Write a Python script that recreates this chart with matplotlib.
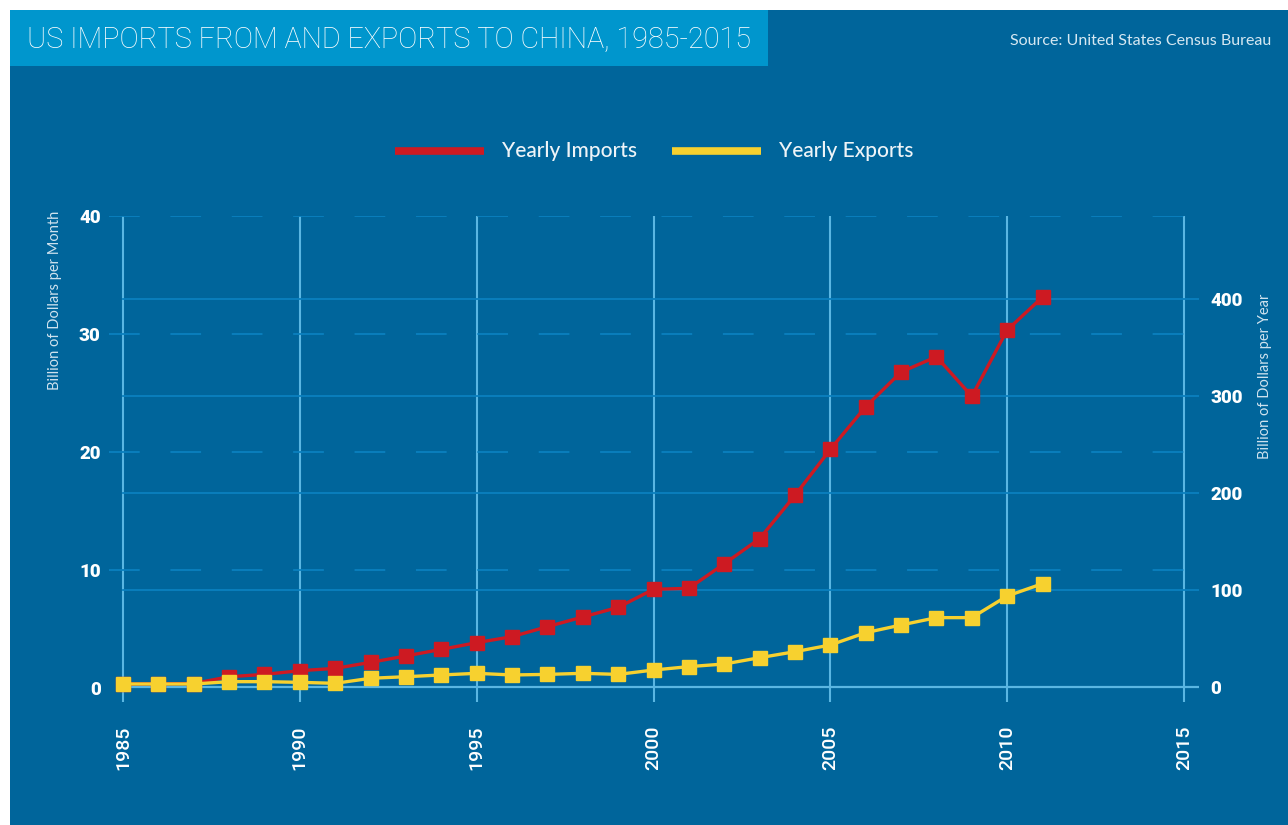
import matplotlib.pyplot as plt
from matplotlib.patches import Rectangle
from matplotlib.lines import Line2D

plt.rcParams['font.family'] = ['Lato', 'DejaVu Sans']

# yearly trade with China, billion dollars
years = list(range(1985, 2012))
imports = [3.1, 3.3, 3.6, 10.6, 13.0, 16.8, 19.2, 25.4, 32.0, 38.8, 45.7, 51.9, 62.2,
           72.2, 82.1, 100.7, 101.7, 127.0, 152.9, 197.6, 245.0, 289.0, 324.7, 340.5,
           299.7, 368.0, 402.0]
exports = [3.1, 3.1, 3.1, 5.5, 5.5, 4.8, 3.8, 9.0, 10.6, 12.4, 14.1, 12.4, 13.0,
           14.1, 13.0, 17.5, 21.0, 23.7, 30.2, 36.4, 43.3, 56.0, 63.9, 71.5,
           71.5, 93.8, 106.5]

year_ticks = [1985, 1990, 1995, 2000, 2005, 2010, 2015]
month_ticks = [0, 10, 20, 30, 40]
year_val_ticks = [0, 100, 200, 300, 400]

BG = '#00659b'
TITLE_BG = '#0096cd'
GRID_V = '#5ab6e2'
GRID_H = '#0a80bf'
RED = '#cd1a22'
YELLOW = '#f7d12f'
ROBOTO = ['Roboto', 'DejaVu Sans']

W, H = 1288, 825
fig = plt.figure(figsize=(W / 100, H / 100), dpi=100, facecolor='white')

# panel and title box
fig.patches.append(Rectangle((10 / W, 0), 1 - 10 / W, 1 - 10 / H, transform=fig.transFigure,
                             facecolor=BG, edgecolor='none', zorder=-2))
fig.patches.append(Rectangle((10 / W, 1 - 66 / H), 758 / W, 56 / H, transform=fig.transFigure,
                             facecolor=TITLE_BG, edgecolor='none', zorder=-1))
fig.text(27 / W, 1 - 40 / H, 'US IMPORTS FROM AND EXPORTS TO CHINA, 1985-2015',
         color='white', fontsize=20.7, fontweight='light', family=ROBOTO,
         ha='left', va='center')
fig.text(1271 / W, 1 - 41 / H, 'Source: United States Census Bureau',
         color='#d6e8f2', fontsize=11.5, ha='right', va='center')

# axes box in pixels
x0, x1, y0, y1 = 109, 1199, 216, 702
ax = fig.add_axes([x0 / W, 1 - y1 / H, (x1 - x0) / W, (y1 - y0) / H])
ax.set_facecolor('none')
px_year = (1184 - 123) / 30
ax.set_xlim(1985 - 14 / px_year, 2015 + 15 / px_year)
ax.set_ylim(-(702 - 688) / 11.8, 40)

ax2 = ax.twinx()
ax2.set_ylim(-(702 - 687) / 0.97, (687 - 216) / 0.97)

for s in list(ax.spines.values()) + list(ax2.spines.values()):
    s.set_visible(False)

# grid: solid verticals, dashed lines on the monthly scale, solid on the yearly scale
for yr in year_ticks:
    ax.axvline(yr, color=GRID_V, lw=1.5, zorder=1)
for v in month_ticks[1:]:
    ax.axhline(v, color=GRID_H, lw=1.3, dashes=(17, 17), zorder=1)
xmin_frac = 14 / (x1 - x0)
for v in year_val_ticks[1:]:
    ax2.axhline(v, xmin=xmin_frac, xmax=1, color=GRID_H, lw=1.3, zorder=1)
ax2.axhline(0, xmin=xmin_frac, xmax=1, color=GRID_V, lw=1.6, zorder=1)

ax2.plot(years, imports, color=RED, lw=2.4, marker='s', ms=10, zorder=3)
ax2.plot(years, exports, color=YELLOW, lw=2.4, marker='s', ms=10, zorder=4)

ax.set_xticks(year_ticks)
ax.set_xticklabels([str(y) for y in year_ticks], rotation=90, color='white',
                   fontsize=14, fontweight='medium', family=ROBOTO)
ax.tick_params(axis='x', length=0, pad=17)
ax.set_yticks(month_ticks)
ax.set_yticklabels([str(v) for v in month_ticks], color='white', fontsize=13.5,
                   fontweight='black', family=ROBOTO)
ax.tick_params(axis='y', length=0, pad=6)
ax2.set_yticks(year_val_ticks)
ax2.set_yticklabels([str(v) for v in year_val_ticks], color='white', fontsize=13.5,
                    fontweight='black', family=ROBOTO)
ax2.tick_params(axis='y', length=0, pad=8)

fig.text(55 / W, 1 - 300 / H, 'Billion of Dollars per Month', rotation=90,
         color='#cfe2ee', fontsize=10.5, ha='center', va='center')
fig.text(1265 / W, 1 - 376 / H, 'Billion of Dollars per Year', rotation=90,
         color='#cfe2ee', fontsize=10.5, ha='center', va='center')

# legend drawn by hand across the top
ly = 1 - 151 / H
fig.add_artist(Line2D([395 / W, 484 / W], [ly, ly], color=RED, lw=5.5,
                      solid_capstyle='butt'))
fig.text(502 / W, ly, 'Yearly Imports', color='#eef4f8', fontsize=15,
         fontweight='medium', ha='left', va='center')
fig.add_artist(Line2D([672 / W, 761 / W], [ly, ly], color=YELLOW, lw=5.5,
                      solid_capstyle='butt'))
fig.text(779 / W, ly, 'Yearly Exports', color='#eef4f8', fontsize=15,
         fontweight='medium', ha='left', va='center')

fig.savefig('out.png', dpi=100, facecolor='white')
